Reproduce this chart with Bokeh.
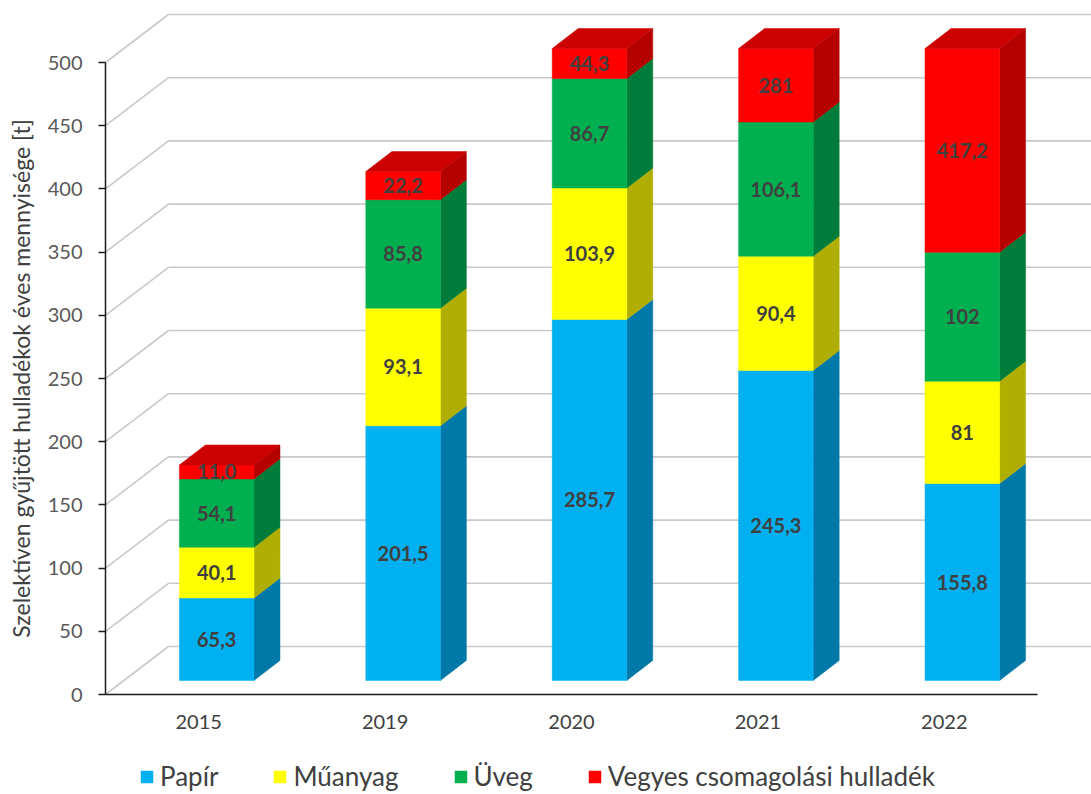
import numpy as np
from bokeh.plotting import figure
from bokeh.models import (ColumnDataSource, FixedTicker, Legend, LegendItem,
                          Label, Range1d)
from bokeh.core.properties import value
from bokeh.embed import file_html
from bokeh.resources import INLINE

# ---------------- data ----------------
years = ["2015", "2019", "2020", "2021", "2022"]
series_names = ["Papír", "Műanyag", "Üveg", "Vegyes csomagolási hulladék"]
papir = [65.3, 201.5, 285.7, 245.3, 155.8]
muanyag = [40.1, 93.1, 103.9, 90.4, 81]
uveg = [54.1, 85.8, 86.7, 106.1, 102]
vegyes = [11.0, 22.2, 44.3, 281, 417.2]
y_ticks = [0, 50, 100, 150, 200, 250, 300, 350, 400, 450, 500]
y_max = 500
y_title = "Szelektíven gyűjtött hulladékok éves mennyisége [t]"

# ---------------- style ----------------
front_colors = ["#00B0F0", "#FFFF00", "#00B050", "#FF0000"]
side_colors = ["#0079A8", "#B0AE00", "#007C3A", "#B50000"]
top_colors = ["#0092C8", "#D6D400", "#00933F", "#CC0000"]
FONT = "Lato"

W, H = 1091, 794
ORIGIN_X, ORIGIN_Y = 105, 694   # pixel position of the axes' origin
PX_X = 186.4      # pixels per category band
PX_Y = 1.264      # pixels per unit
x_start, x_end = -ORIGIN_X / PX_X, (W - ORIGIN_X) / PX_X
y_start, y_end = -(H - ORIGIN_Y) / PX_Y, ORIGIN_Y / PX_Y

# 3D offsets (converted from pixels to data units)
WALL_DX, WALL_DY = 63 / PX_X, 48 / PX_Y
FDX, FDY = 18 / PX_X, 14 / PX_Y
DDX, DDY = 26 / PX_X, 20 / PX_Y
BAR_W = 0.40

p = figure(frame_width=W, frame_height=H,
           x_range=Range1d(x_start, x_end), y_range=Range1d(y_start, y_end),
           output_backend="svg", toolbar_location=None,
           min_border_left=0, min_border_right=0, min_border_top=0,
           min_border_bottom=0)
p.outline_line_color = None
p.xgrid.visible = False
p.ygrid.visible = False
p.background_fill_color = "white"
p.border_fill_color = "white"

# ---------------- 3D walls / gridlines ----------------
grid_src = ColumnDataSource(dict(v=y_ticks, vb=[v + WALL_DY for v in y_ticks]))
grid_col = "#c9c9c9"
p.segment(x0=0, y0="v", x1=WALL_DX, y1="vb", source=grid_src,
          line_color=grid_col, line_width=1.6)
p.segment(x0=WALL_DX, y0="vb", x1=x_end + 1, y1="vb", source=grid_src,
          line_color=grid_col, line_width=1.6)

# ---------------- stacked 3D bars ----------------
data = [papir, muanyag, uveg, vegyes]
cats = np.arange(len(years)) + 0.5
left = cats - BAR_W / 2 + FDX
right = cats + BAR_W / 2 + FDX
bottom = np.zeros(len(years))
front_renderers = []
lab_x, lab_y, lab_t = [], [], []
tops_clipped = None
for k, vals in enumerate(data):
    top = bottom + np.array(vals, dtype=float)
    b = np.minimum(bottom, y_max)
    t = np.minimum(top, y_max)
    fb, ft = b + FDY, t + FDY
    side_xs = [[r, r + DDX, r + DDX, r] for r in right]
    side_ys = [[bb, bb + DDY, tt + DDY, tt] for bb, tt in zip(fb, ft)]
    p.patches(xs=side_xs, ys=side_ys, fill_color=side_colors[k],
              line_color=side_colors[k], line_width=0.5)
    r = p.quad(left=left, right=right, bottom=fb, top=ft,
               fill_color=front_colors[k], line_color=front_colors[k], line_width=0.5)
    front_renderers.append(r)
    for i, v in enumerate(vals):
        lab_x.append((left[i] + right[i]) / 2)
        lab_y.append((fb[i] + ft[i]) / 2)
        lab_t.append(str(v).replace(".", ","))
    bottom = top
    tops_clipped = ft

# top faces of the highest segment
top_xs = [[l, l + DDX, r + DDX, r] for l, r in zip(left, right)]
top_ys = [[t, t + DDY, t + DDY, t] for t in tops_clipped]
p.patches(xs=top_xs, ys=top_ys, fill_color=top_colors[-1],
          line_color=top_colors[-1], line_width=0.5)

# data labels
p.text(x=lab_x, y=lab_y, text=lab_t, text_align="center", text_baseline="middle",
       text_font=value(FONT), text_font_style="bold", text_font_size="20px",
       text_color="#404040")

# ---------------- axes ----------------
ya = p.yaxis[0]
ya.fixed_location = 0
ya.ticker = FixedTicker(ticks=y_ticks)
ya.bounds = (0, y_max)
ya.axis_line_color = "#1a1a1a"
ya.axis_line_width = 1.5
ya.major_tick_line_color = "#1a1a1a"
ya.major_tick_line_width = 1.5
ya.major_tick_out = 7
ya.major_tick_in = 0
ya.minor_tick_line_color = None
ya.major_label_standoff = 16
ya.major_label_text_font = FONT
ya.major_label_text_font_size = "20px"
ya.major_label_text_color = "#595959"

xa = p.xaxis[0]
xa.fixed_location = 0
xa.ticker = FixedTicker(ticks=list(cats))
xa.major_label_overrides = {float(c): yv for c, yv in zip(cats, years)}
xa.bounds = (0, len(years))
xa.axis_line_color = "#1a1a1a"
xa.axis_line_width = 1.5
xa.major_tick_line_color = None
xa.major_tick_out = 0
xa.major_tick_in = 0
xa.minor_tick_line_color = None
xa.major_label_standoff = 20
xa.major_label_text_font = FONT
xa.major_label_text_font_size = "20px"
xa.major_label_text_color = "#404040"

# axis title
p.add_layout(Label(x=-85 / PX_X, y=y_max / 2, text=y_title, angle=np.pi / 2,
                   text_align="center", text_baseline="middle",
                   text_font=FONT, text_font_size="23px", text_color="#404040"))

# ---------------- legend ----------------
legend = Legend(items=[LegendItem(label=n, renderers=[r])
                       for n, r in zip(series_names, front_renderers)],
                orientation="horizontal", location=(139, 2),
                label_text_font=FONT, label_text_font_size="26px",
                label_text_color="#404040", glyph_width=15, glyph_height=15,
                label_standoff=6, spacing=54, padding=0, margin=0,
                border_line_color=None, background_fill_alpha=0)
p.add_layout(legend, "center")

open("out.html", "w").write(file_html(p, INLINE))
